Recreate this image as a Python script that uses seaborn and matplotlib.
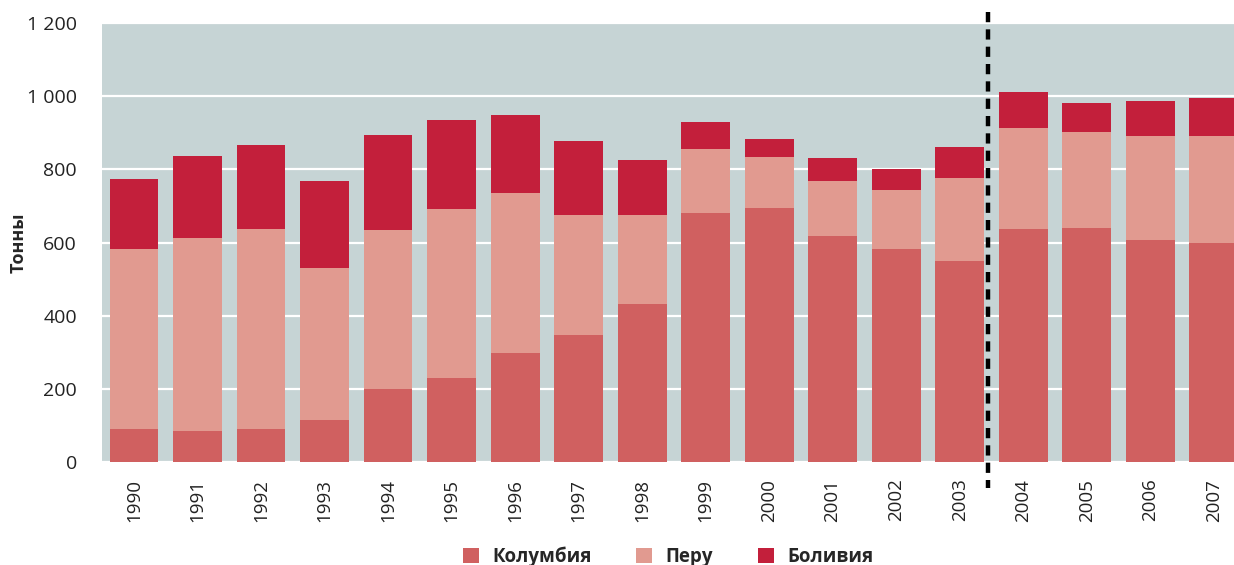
import numpy as np
import pandas as pd
import matplotlib
matplotlib.use("Agg")
import matplotlib.pyplot as plt
import seaborn as sns
from matplotlib.patches import Patch

sns.set_style("white")
plt.rcParams["font.family"] = ["Open Sans", "DejaVu Sans"]

years = [str(y) for y in range(1990, 2008)]
colombia = [90, 85, 90, 115, 200, 230, 298, 347, 432, 681, 694, 618, 582, 549, 637, 640, 607, 599]
peru_top = [582, 612, 637, 530, 634, 692, 735, 675, 675, 856, 834, 768, 744, 776, 913, 902, 891, 891]
total = [773, 836, 866, 768, 894, 935, 949, 877, 825, 929, 883, 831, 801, 861, 1011, 981, 987, 995]

series_names = ["Колумбия", "Перу", "Боливия"]
colors = ["#D06060", "#E19A90", "#C31F3B"]
y_ticks = [0, 200, 400, 600, 800, 1000, 1200]
y_tick_labels = ["0", "200", "400", "600", "800", "1 000", "1 200"]

df = pd.DataFrame({"year": years, "col": colombia, "peru": peru_top, "total": total})

fig = plt.figure(figsize=(12.34, 5.65), dpi=100)
ax = fig.add_axes([102 / 1234, 103 / 565, 1 - 102 / 1234, 439 / 565])
ax.set_facecolor("#C6D4D5")

# stacked: draw cumulative tops, back to front
for col, c in zip(["total", "peru", "col"], colors[::-1]):
    sns.barplot(data=df, x="year", y=col, color=c, width=0.77, saturation=1,
                edgecolor="none", linewidth=0, ax=ax, zorder=2)

ax.set_xlim(-0.504, 17.32)
ax.set_ylim(0, 1200)
ax.set_yticks(y_ticks)
ax.set_yticklabels(y_tick_labels, fontsize=14, color="#222222")
ax.grid(axis="y", color="white", linewidth=1.6, zorder=1)
ax.set_axisbelow(True)
ax.tick_params(axis="x", rotation=90, labelsize=13.5, pad=12, length=0, labelcolor="#222222")
ax.tick_params(axis="y", length=0, pad=18)
for s in ax.spines.values():
    s.set_visible(False)
ax.set_xlabel("")
ax.set_ylabel("Тонны", fontsize=13, fontweight="bold")
ax.yaxis.set_label_coords(-0.066, 0.5)

# divider between 2003 and 2004
ax.plot([13.45, 13.45], [1.025, -0.059], transform=ax.get_xaxis_transform(),
        color="black", lw=3.2, linestyle=(0, (2.3, 1.6)), clip_on=False, zorder=5)

handles = [Patch(facecolor=c, edgecolor="none") for c in colors]
leg = ax.legend(handles, series_names, loc="center", bbox_to_anchor=(0.5, -0.215),
                ncol=3, frameon=False, handlelength=0.85, handleheight=0.85,
                columnspacing=2.4, handletextpad=0.7, prop={"weight": "bold", "size": 13.5})

fig.savefig("out.png", dpi=100)
